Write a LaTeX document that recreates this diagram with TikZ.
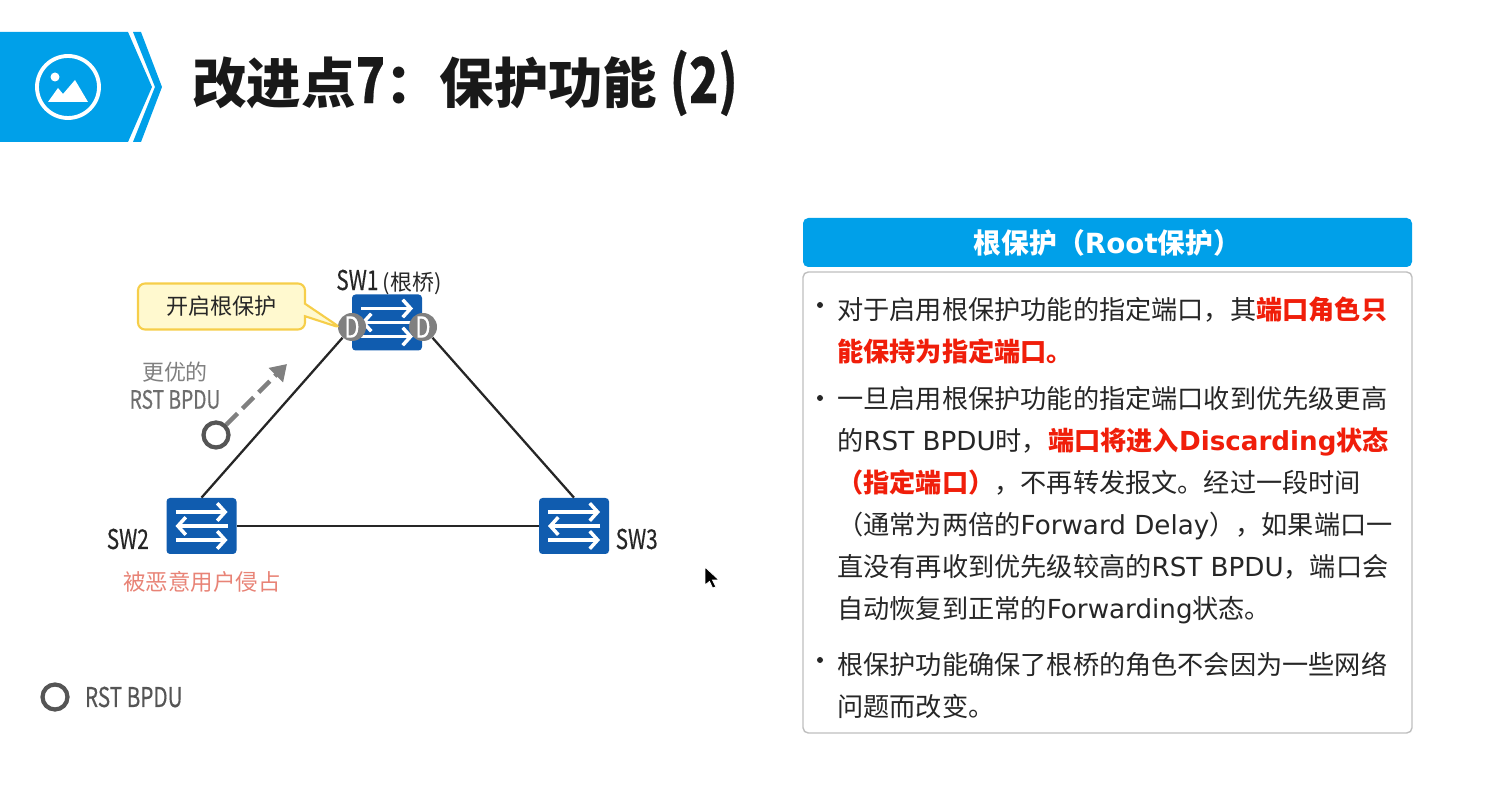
\documentclass[tikz,border=0pt]{standalone}
\usepackage{fontspec}
\setmainfont{Noto Sans CJK SC}
\newfontfamily\narrowfont[FakeStretch=0.76, FakeBold=0.35]{Noto Sans CJK SC}
\newfontfamily\widefont[Scale=1.0]{DejaVu Sans}
\newcommand{\fwcomma}{\char"FF0C\relax}
\newcommand{\fwcolon}{\char"FF1A\relax}
\newcommand{\fwopen}{\char"FF08\relax}
\newcommand{\fwclose}{\char"FF09\relax}
\definecolor{bannerblue}{RGB}{0, 160, 233}
\definecolor{switchblue}{RGB}{16, 92, 175}
\definecolor{portgray}{RGB}{128, 128, 128}
\definecolor{darkgray1}{RGB}{85, 85, 85}
\definecolor{callfill}{RGB}{255, 249, 207}
\definecolor{callline}{RGB}{246, 206, 74}
\definecolor{salmon1}{RGB}{232, 131, 118}
\definecolor{warnred}{RGB}{240, 30, 10}
\usetikzlibrary{shapes, shapes.callouts, arrows.meta, positioning, calc}
\tikzset{
  swbox/.style={draw=none, fill=switchblue, rounded corners=2pt, minimum width=1.4cm, minimum height=1.12cm, inner sep=0pt},
  swarrow/.style={draw=white, line width=2pt, -{Straight Barb[length=4.5pt, width=10pt, line width=2pt]}},
  portnode/.style={circle, fill=portgray, text=white, minimum size=.56cm, inner sep=0pt, font=\narrowfont\fontsize{16.5}{16.5}\selectfont},
  bpdu/.style={circle, draw=darkgray1, line width=2.4pt, fill=white, minimum size=.5cm, inner sep=0pt},
  swlabel/.style={inner sep=0pt, text=black!85, font=\narrowfont\fontsize{15.5}{15.5}\selectfont},
  link/.style={draw=black!85, line width=1.3pt},
  dotnode/.style={circle, fill=black!85, minimum size=.12cm, inner sep=0pt},
  bodytext/.style={anchor=west, align=left, inner sep=0pt, text=black!85, font=\fontsize{14.9}{23.9}\selectfont}
}
\newcommand{\swarrows}[1]{
  \foreach \ypos in {.28,-.28}
    \draw[swarrow] ($(#1)+(-.52,\ypos)$) -- ($(#1)+(.52,\ypos)$);
  \draw[swarrow] ($(#1)+(.52,0)$) -- ($(#1)+(-.52,0)$);
}
\begin{document}
\begin{tikzpicture}
  \useasboundingbox (0,0) rectangle (29.88,16.22);

  % Banner
  \fill[bannerblue] (0,15.58) -- (2.56,15.58) -- (3.04,14.48) -- (2.56,13.38) -- (0,13.38) -- cycle;
  \fill[bannerblue] (2.66,15.58) -- (2.82,15.58) -- (3.24,14.48) -- (2.82,13.38) -- (2.66,13.38) -- (3.10,14.48) -- cycle;
  \draw[white, line width=2.2pt] (1.36,14.48) circle (.62);
  \fill[white] (1.10,14.68) circle (.09);
  \fill[white] (.96,14.18) -- (1.16,14.46) -- (1.26,14.34) -- (1.50,14.62) -- (1.76,14.18) -- cycle;
  \node[anchor=west, inner sep=0pt, text=black!90, font=\bfseries\fontsize{31}{31}\selectfont] (title) at (3.84,14.56) {改进点{\narrowfont\fontsize{36}{36}\selectfont 7}\fwcolon 保护功能 {\narrowfont\fontsize{36}{36}\selectfont (2)}};

  % Switches
  \node[swbox] (sw1) at (7.74,9.77) {};
  \node[swbox] (sw2) at (4.03,5.70) {};
  \node[swbox] (sw3) at (11.48,5.70) {};
  \swarrows{sw1}
  \swarrows{sw2}
  \swarrows{sw3}
  \node[portnode] (portl) at (7.04,9.68) {D};
  \node[portnode] (portr) at (8.46,9.68) {D};

  % Links
  \draw[link] (portl) -- (sw2.north);
  \draw[link] (portr) -- (sw3.north);
  \draw[link] (sw2) -- (sw3);

  % Labels
  \node[swlabel] (sw1label) at (7.78,10.58) {SW1\,{\fontspec{Noto Sans CJK SC}\fontsize{12.5}{12.5}\selectfont (根桥)}};
  \node[swlabel, left=.34cm of sw2, yshift=-.26cm] (sw2label) {SW2};
  \node[swlabel, right=.12cm of sw3, yshift=-.26cm] (sw3label) {SW3};
  \node[inner sep=0pt, text=salmon1, font=\fontsize{12.8}{12.8}\selectfont] (badlabel) at (4.04,4.58) {被恶意用户侵占};

  % Callout
  \coordinate (calltip) at (6.82,9.66);
  \node[rectangle callout, callout absolute pointer=(calltip), draw=callline, fill=callfill, line width=1.2pt, rounded corners=4pt, minimum width=3.34cm, minimum height=.92cm, inner sep=0pt, text=black!85, font=\fontsize{12.6}{12.6}\selectfont] (call) at (4.43,10.09) {\raisebox{-.1cm}{开启根保护}};

  % Better BPDU
  \node[inner sep=0pt, align=center, text=portgray, font=\fontsize{12.5}{12.5}\selectfont] (better) at (3.50,8.78) {更优的};
  \node[swlabel, text=darkgray1!85, below=.14cm of better, font=\narrowfont\fontsize{14.4}{14.4}\selectfont] (betterbpdu) {RST BPDU};
  \node[bpdu] (msg) at (4.32,7.52) {};
  \coordinate (msgend) at (5.74,8.94);
  \draw[portgray, line width=2.6pt, dash pattern=on 9pt off 4pt, -{Triangle[length=9pt, width=11pt]}] (msg) -- (msgend);

  % Legend
  \node[bpdu] (legend) at (1.10,2.28) {};
  \node[swlabel, text=darkgray1, right=.3cm of legend] (legendlabel) {RST BPDU};

  % Cursor
  \draw[white, fill=black, line width=.5pt] (14.10,4.88) -- (14.10,4.52) -- (14.19,4.59) -- (14.25,4.46) -- (14.32,4.48) -- (14.25,4.62) -- (14.38,4.62) -- cycle;

  % Panel
  \node[fill=bannerblue, rounded corners=3pt, minimum width=12.18cm, minimum height=.98cm, inner sep=0pt, text=white, font=\bfseries\fontsize{15.8}{15.8}\selectfont] (head) at (22.15,11.37) {根保护\fwopen{\widefont Root}保护\fwclose};
  \node[draw=black!25, fill=white, line width=.8pt, rounded corners=3pt, minimum width=12.18cm, minimum height=9.22cm, inner sep=0pt] (panel) at (22.15,6.17) {};

  \node[dotnode] (dota) at (16.40,10.12) {};
  \node[dotnode] (dotb) at (16.40,8.26) {};
  \node[dotnode] (dotc) at (16.40,3.02) {};

  \node[bodytext] (parta) at (16.74,9.62) {对于启用根保护功能的指定端口\fwcomma 其\textcolor{warnred}{\bfseries 端口角色只}\\
    \textcolor{warnred}{\bfseries 能保持为指定端口。}};
  \node[bodytext] (partb) at (16.74,6.11) {一旦启用根保护功能的指定端口收到优先级更高\\
    的{\widefont RST BPDU}时\fwcomma\textcolor{warnred}{\bfseries 端口将进入{\widefont Discarding}状态}\\
    \textcolor{warnred}{\bfseries\fwopen 指定端口\fwclose}\fwcomma 不再转发报文。经过一段时间\\
    \fwopen 通常为两倍的{\widefont Forward Delay}\fwclose\fwcomma 如果端口一\\
    直没有再收到优先级较高的{\widefont RST BPDU}\fwcomma 端口会\\
    自动恢复到正常的{\widefont Forwarding}状态。};
  \node[bodytext] (partc) at (16.74,2.52) {根保护功能确保了根桥的角色不会因为一些网络\\
    问题而改变。};
\end{tikzpicture}
\end{document}
